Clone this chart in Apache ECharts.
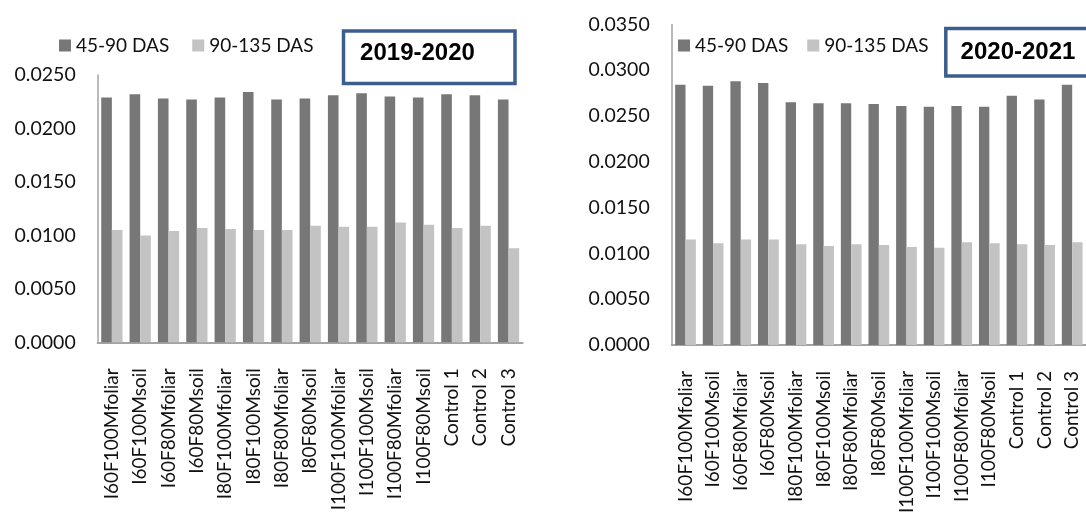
<!DOCTYPE html>
<html>
<head>
<meta charset="utf-8">
<script src="https://cdn.jsdelivr.net/npm/echarts@6/dist/echarts.min.js"></script>
<style>
html,body{margin:0;padding:0;background:#fff;}
#c{width:1086px;height:516px;}
</style>
</head>
<body>
<div id="c"></div>
<script>
const categories = ['I60F100Mfoliar','I60F100Msoil','I60F80Mfoliar','I60F80Msoil','I80F100Mfoliar','I80F100Msoil','I80F80Mfoliar','I80F80Msoil','I100F100Mfoliar','I100F100Msoil','I100F80Mfoliar','I100F80Msoil','Control 1','Control 2','Control 3'];
const seriesNames = ['45-90 DAS','90-135 DAS'];
const y2019_45_90 = [0.0229,0.0232,0.0228,0.0227,0.0229,0.0234,0.0227,0.0228,0.0231,0.0233,0.0230,0.0229,0.0232,0.0231,0.0227];
const y2019_90_135 = [0.0105,0.0100,0.0104,0.0107,0.0106,0.0105,0.0105,0.0109,0.0108,0.0108,0.0112,0.0110,0.0107,0.0109,0.0088];
const y2020_45_90 = [0.0284,0.0283,0.0288,0.0286,0.0265,0.0264,0.0264,0.0263,0.0261,0.0260,0.0261,0.0260,0.0272,0.0268,0.0284];
const y2020_90_135 = [0.0115,0.0111,0.0115,0.0115,0.0110,0.0108,0.0110,0.0109,0.0107,0.0106,0.0112,0.0111,0.0110,0.0109,0.0112];
const panelTitles = ['2019-2020','2020-2021'];
const yLeft = {min:0, max:0.025, interval:0.005};
const yRight = {min:0, max:0.035, interval:0.005};

const DARK = '#777777', LIGHT = '#c3c3c3', AXIS = '#a3a3a3', BLUE = '#3c5e8e';
const FONT = 'Lato';

function xAx(gi){
  return {type:'category', gridIndex:gi, data:categories,
    axisTick:{show:false},
    axisLine:{lineStyle:{color:AXIS,width:2}},
    axisLabel:{interval:0, rotate:90, margin:26, fontSize:19, fontFamily:FONT, color:'#111'}};
}
function yAx(gi, sc){
  return {type:'value', gridIndex:gi, min:sc.min, max:sc.max, interval:sc.interval,
    axisLine:{show:true, lineStyle:{color:AXIS,width:1.5}},
    axisTick:{show:false}, splitLine:{show:false},
    axisLabel:{margin:22, fontSize:19.5, fontFamily:FONT, color:'#111', formatter:v=>v.toFixed(4)}};
}
function bar(name, gi, data, color){
  return {type:'bar', name:name, xAxisIndex:gi, yAxisIndex:gi, data:data,
    barGap:'0%', barCategoryGap:'25%', itemStyle:{color:color}, animation:false};
}
function leg(left, gap){
  return {left:left, top:31, icon:'rect', itemWidth:12, itemHeight:12, itemGap:gap,
    data:seriesNames, textStyle:{fontSize:19, fontFamily:FONT, color:'#111'}, selectedMode:false};
}

const chart = echarts.init(document.getElementById('c'), null, {renderer:'canvas'});
chart.setOption({
  animation:false,
  backgroundColor:'#fff',
  grid:[
    {left:97.7, top:75, width:425, height:267.3},
    {left:671.7, top:24.4, width:425, height:327.3}
  ],
  xAxis:[xAx(0), xAx(1)],
  yAxis:[yAx(0,yLeft), yAx(1,yRight)],
  legend:[leg(54, 23), leg(673, 19)],
  series:[
    bar(seriesNames[0],0,y2019_45_90,DARK),
    bar(seriesNames[1],0,y2019_90_135,LIGHT),
    bar(seriesNames[0],1,y2020_45_90,DARK),
    bar(seriesNames[1],1,y2020_90_135,LIGHT)
  ],
  graphic:[
    {type:'rect', shape:{x:343.5, y:31, width:171.5, height:52.5}, style:{fill:'#fff', stroke:BLUE, lineWidth:3.5}, z:10},
    {type:'text', x:417.5, y:53.5, style:{text:panelTitles[0], font:'bold 24px "Liberation Sans"', fill:'#000', align:'center', verticalAlign:'middle'}, z:11},
    {type:'rect', shape:{x:945.8, y:28.5, width:171, height:47.5}, style:{fill:'#fff', stroke:BLUE, lineWidth:3.5}, z:10},
    {type:'text', x:1018, y:52, style:{text:panelTitles[1], font:'bold 24px "Liberation Sans"', fill:'#000', align:'center', verticalAlign:'middle'}, z:11}
  ]
});
</script>
</body>
</html>
